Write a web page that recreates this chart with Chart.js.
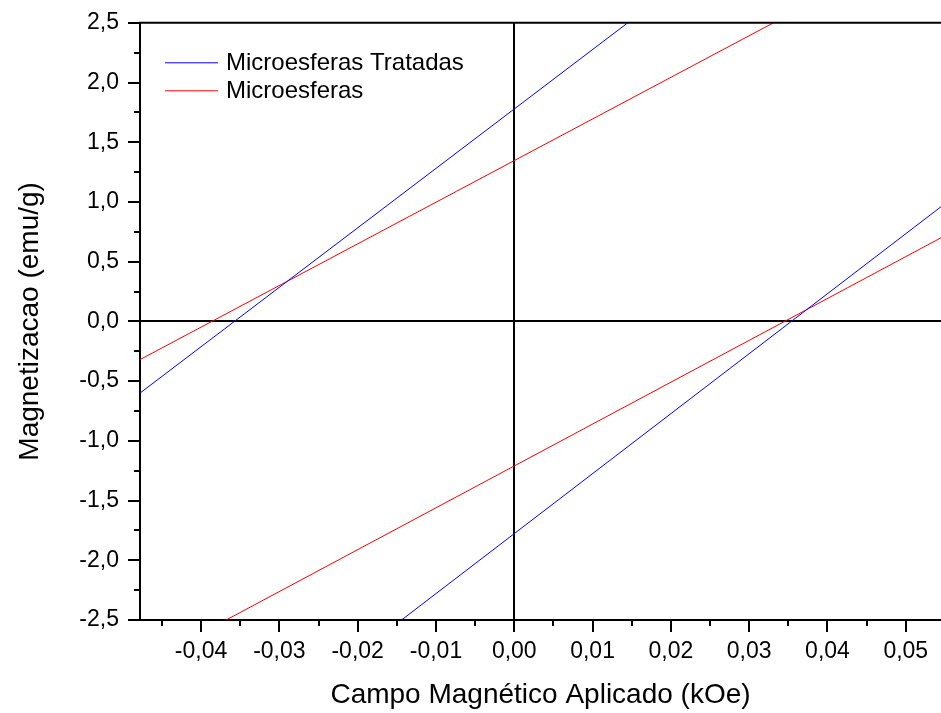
<!DOCTYPE html>
<html>
<head>
<meta charset="utf-8">
<script src="https://cdn.jsdelivr.net/npm/chart.js@4.4.1/dist/chart.umd.min.js"></script>
<style>
  html, body { margin: 0; padding: 0; background: #fff; overflow: hidden; }
  canvas { display: block; }
</style>
</head>
<body>
<canvas id="grafico" width="941" height="713"></canvas>
<script>
// ramos de histerese (campo em kOe, magnetizacao em emu/g)
const campoTratadasRamo1 = [-0.0478, 0.0145];
const magTratadasRamo1 = [-0.60, 2.50];
const campoTratadasRamo2 = [-0.0144, 0.0545];
const magTratadasRamo2 = [-2.50, 0.96];

const campoMicroRamo1 = [-0.0478, 0.0331];
const magMicroRamo1 = [-0.32, 2.50];
const campoMicroRamo2 = [-0.0368, 0.0545];
const magMicroRamo2 = [-2.50, 0.70];

const nomesSeries = ['Microesferas Tratadas', 'Microesferas'];
const coresSeries = ['#0000ff', '#ff0000'];

const limitesCampo = [-0.0478, 0.0545];
const limitesMag = [-2.5, 2.5];

const fonte = "'Liberation Sans', Arial, sans-serif";

// junta os dois ramos num dataset, com um ponto nulo separando
function montaRamos(xa, ya, xb, yb) {
    const pts = xa.map((x, i) => ({ x: x, y: ya[i] }));
    pts.push({ x: xb[0], y: null });
    xb.forEach((x, i) => pts.push({ x: x, y: yb[i] }));
    return pts;
}

function virgula(v, casas) {
    if (Math.abs(v) < 1e-9) v = 0;
    return v.toFixed(casas).replace('.', ',');
}

// moldura superior, ticks menores e legenda dentro da area
const extras = {
    id: 'extras',
    afterDraw(chart) {
        const ctx = chart.ctx;
        const area = chart.chartArea;
        const sx = chart.scales.x;
        const sy = chart.scales.y;
        ctx.save();
        ctx.strokeStyle = '#000';
        ctx.lineWidth = 2;
        ctx.beginPath();
        ctx.moveTo(area.left - 1, area.top);
        ctx.lineTo(area.right, area.top);
        ctx.stroke();

        ctx.beginPath();
        sx.ticks.forEach(t => {
            [-0.005, 0.005].forEach(d => {
                const v = t.value + d;
                if (v < sx.min || v > sx.max) return;
                const px = Math.round(sx.getPixelForValue(v));
                ctx.moveTo(px, area.bottom);
                ctx.lineTo(px, area.bottom + 6);
            });
        });
        sy.ticks.forEach(t => {
            [-0.25, 0.25].forEach(d => {
                const v = t.value + d;
                if (v < sy.min || v > sy.max) return;
                const py = Math.round(sy.getPixelForValue(v));
                ctx.moveTo(area.left, py);
                ctx.lineTo(area.left - 6, py);
            });
        });
        ctx.stroke();

        ctx.font = '24px ' + fonte;
        ctx.textBaseline = 'middle';
        ctx.fillStyle = '#000';
        chart.data.datasets.forEach((ds, i) => {
            const y = area.top + 40 + i * 28;
            ctx.strokeStyle = ds.borderColor;
            ctx.lineWidth = 1;
            ctx.beginPath();
            ctx.moveTo(area.left + 25, y);
            ctx.lineTo(area.left + 78, y);
            ctx.stroke();
            ctx.fillText(ds.label, area.left + 86, y + 1);
        });
        ctx.restore();
    }
};

const linhaZero = c => (c.tick && Math.abs(c.tick.value) < 1e-9) ? '#000' : 'rgba(0,0,0,0)';

new Chart(document.getElementById('grafico'), {
    type: 'line',
    data: {
        datasets: [
            {
                label: nomesSeries[0],
                data: montaRamos(campoTratadasRamo1, magTratadasRamo1, campoTratadasRamo2, magTratadasRamo2),
                borderColor: coresSeries[0],
                borderWidth: 1,
                pointRadius: 0,
                spanGaps: false
            },
            {
                label: nomesSeries[1],
                data: montaRamos(campoMicroRamo1, magMicroRamo1, campoMicroRamo2, magMicroRamo2),
                borderColor: coresSeries[1],
                borderWidth: 1,
                pointRadius: 0,
                spanGaps: false
            }
        ]
    },
    options: {
        responsive: false,
        animation: false,
        layout: { padding: { top: 20, right: 0, left: 0, bottom: 0 } },
        plugins: {
            legend: { display: false },
            tooltip: { enabled: false }
        },
        scales: {
            x: {
                type: 'linear',
                min: limitesCampo[0],
                max: limitesCampo[1],
                afterFit: s => { s.height = 93; },
                border: { display: true, color: '#000', width: 2 },
                grid: {
                    color: linhaZero,
                    lineWidth: 2,
                    drawTicks: true,
                    tickLength: 12,
                    tickColor: '#000',
                    tickWidth: 2
                },
                ticks: {
                    stepSize: 0.01,
                    includeBounds: false,
                    autoSkip: false,
                    maxRotation: 0,
                    padding: 6,
                    color: '#000',
                    font: { family: fonte, size: 23 },
                    callback: v => virgula(v, 2)
                },
                title: {
                    display: true,
                    text: 'Campo Magnético Aplicado (kOe)',
                    color: '#000',
                    font: { family: fonte, size: 28, lineHeight: 1 },
                    padding: { top: 0, bottom: 4 }
                }
            },
            y: {
                min: limitesMag[0],
                max: limitesMag[1],
                afterFit: s => { s.width = 140; },
                border: { display: true, color: '#000', width: 2 },
                grid: {
                    color: linhaZero,
                    lineWidth: 2,
                    drawTicks: true,
                    tickLength: 12,
                    tickColor: '#000',
                    tickWidth: 2
                },
                ticks: {
                    stepSize: 0.5,
                    autoSkip: false,
                    padding: 9,
                    color: '#000',
                    font: { family: fonte, size: 23 },
                    callback: v => virgula(v, 1)
                },
                title: {
                    display: true,
                    text: 'Magnetizacao (emu/g)',
                    color: '#000',
                    font: { family: fonte, size: 28, lineHeight: 1 },
                    padding: { top: 16, bottom: 0 }
                }
            }
        }
    },
    plugins: [extras]
});
</script>
</body>
</html>
